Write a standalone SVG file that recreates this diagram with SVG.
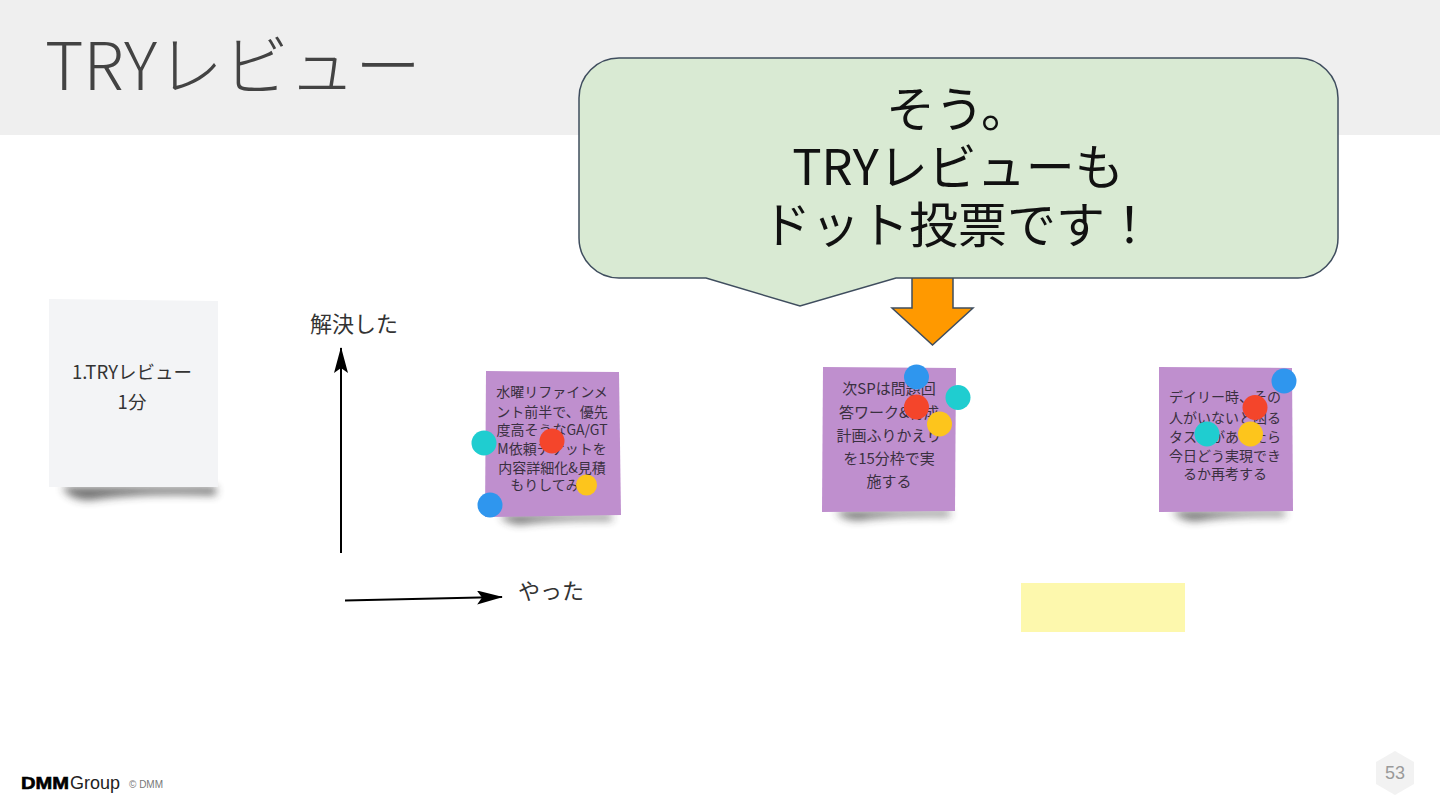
<svg xmlns="http://www.w3.org/2000/svg" width="1440" height="810" viewBox="0 0 1440 810">
<style>
text{font-family:"Noto Sans CJK JP","Noto Sans",sans-serif;text-anchor:middle}
.n{font-size:14px;fill:#3a3040}
.w{font-size:18.5px;fill:#333}
.lab{font-size:22px;fill:#333}
.c{font-size:49px;fill:#111}
.b{fill:#2f96ee}.r{fill:#f4452b}.t{fill:#1fcdd0}.y{fill:#fdc51c}
.p{fill:#bf8fce}
.sh{fill:#333;filter:url(#bl)}
</style>
<defs>
<filter id="bl" x="-20%" y="-200%" width="140%" height="500%"><feGaussianBlur stdDeviation="4"/></filter>
<marker id="ah" viewBox="0 0 26 14" refX="25" refY="7" markerWidth="26" markerHeight="14" markerUnits="userSpaceOnUse" orient="auto"><path d="M0 0L26 7L0 14L5 7Z" fill="#000"/></marker>
</defs>
<rect width="1440" height="810" fill="#fff"/>
<rect id="header" width="1440" height="135" fill="#efefef"/>
<text id="title" x="233" y="90" style="font-size:66px;font-weight:300;fill:#434343">TRYレビュー</text>
<g id="sticky-white">
<path class="sh" d="M62 487H216V495Q140 492 90 500Q70 500 62 487Z" opacity=".7"/>
<path d="M49 299L218 301V487H49Z" fill="#f3f4f6"/>
<text class="w" x="132" y="379">1.TRYレビュー</text>
<text class="w" x="132" y="409">1分</text>
</g>
<g id="connectors" stroke="#000" stroke-width="2" fill="none">
<path d="M341 553V348" marker-end="url(#ah)"/>
<path d="M345 600.500L502 597" marker-end="url(#ah)"/>
</g>
<text id="label-solved" class="lab" x="354" y="332">解決した</text>
<text id="label-done" class="lab" x="551" y="599">やった</text>
<g id="sticky-1">
<path class="sh" d="M500 515H612V520Q560 519 520 524Q505 523 500 515Z" opacity=".7"/>
<path class="p" d="M486 371L619 372L621 515L485 517Z"/>
<text class="n" x="552" y="397">水曜リファインメ</text>
<text class="n" x="552" y="417">ント前半で、優先</text>
<text class="n" x="552" y="435">度高そうなGA/GT</text>
<text class="n" x="552" y="454">M依頼チケットを</text>
<text class="n" x="552" y="473">内容詳細化&amp;見積</text>
<text class="n" x="552" y="490">もりしてみる</text>
<circle class="t" cx="484" cy="443" r="12.500"/><circle class="r" cx="552" cy="441" r="12.500"/><circle class="y" cx="586.500" cy="485" r="10.500"/><circle class="b" cx="490" cy="505" r="12.500"/>
</g>
<g id="sticky-2">
<path class="sh" d="M836 511H950V516Q890 515 860 520Q842 520 836 511Z" opacity=".7"/>
<path class="p" d="M823 367L956 368L955 511L822 512Z"/>
<text class="n" x="889" y="394" style="font-size:15px">次SPは問題回</text>
<text class="n" x="889" y="418" style="font-size:15px">答ワーク&amp;育成</text>
<text class="n" x="889" y="441" style="font-size:15px">計画ふりかえり</text>
<text class="n" x="889" y="464" style="font-size:15px">を15分枠で実</text>
<text class="n" x="889" y="487" style="font-size:15px">施する</text>
<circle class="b" cx="916.500" cy="377" r="12.500"/><circle class="t" cx="958" cy="397.500" r="12.500"/><circle class="r" cx="916.500" cy="407" r="12.500"/><circle class="y" cx="939.500" cy="424" r="12.500"/>
</g>
<g id="sticky-3">
<path class="sh" d="M1172 511H1285V516Q1230 515 1195 521Q1180 520 1172 511Z" opacity=".7"/>
<path class="p" d="M1159 367L1292 368L1293 511L1159 512Z"/>
<text class="n" x="1225" y="402">デイリー時、その</text>
<text class="n" x="1225" y="423">人がいないと困る</text>
<text class="n" x="1225" y="442">タスクがあったら</text>
<text class="n" x="1225" y="461">今日どう実現でき</text>
<text class="n" x="1225" y="479">るか再考する</text>
<circle class="b" cx="1284" cy="381" r="12.500"/><circle class="r" cx="1255" cy="407.500" r="12.500"/><circle class="t" cx="1207" cy="434" r="12.500"/><circle class="y" cx="1250.500" cy="434" r="12.500"/>
</g>
<rect id="sticky-yellow" x="1021" y="583" width="164" height="49" fill="#fdf8ad"/>
<path id="arrow-down" d="M912 270H953V308H973L932.500 345L892 308H912Z" fill="#ff9900" stroke="#3f4d5e" stroke-width="1.500"/>
<g id="callout">
<path d="M619 58H1298A40 40 0 0 1 1338 98V238A40 40 0 0 1 1298 278H896L800 306L706 278H619A40 40 0 0 1 579 238V98A40 40 0 0 1 619 58Z" fill="#d9ead3" stroke="#3f4d5e" stroke-width="1.500"/>
<text class="c" x="958" y="127">そう。</text>
<text class="c" x="958" y="185">TRYレビューも</text>
<text class="c" x="958" y="243">ドット投票です！</text>
</g>
<g id="footer">
<text x="21" y="789" style="font-family:'Liberation Sans',sans-serif;font-weight:700;font-size:17px;text-anchor:start;fill:#000;stroke:#000;stroke-width:.6" textLength="48" lengthAdjust="spacingAndGlyphs">DMM</text>
<text x="70" y="789" style="font-family:'Liberation Sans',sans-serif;font-size:18px;text-anchor:start;fill:#222" textLength="50" lengthAdjust="spacingAndGlyphs">Group</text>
<text x="129" y="788" style="font-family:'Liberation Sans',sans-serif;font-size:10px;text-anchor:start;fill:#777">© DMM</text>
<path d="M1395 751L1414 762V784L1395 795L1376 784V762Z" fill="#f2f2f2"/>
<text x="1395" y="779" style="font-family:'Liberation Sans',sans-serif;font-size:18px;fill:#9a9a9a">53</text>
</g>
</svg>
